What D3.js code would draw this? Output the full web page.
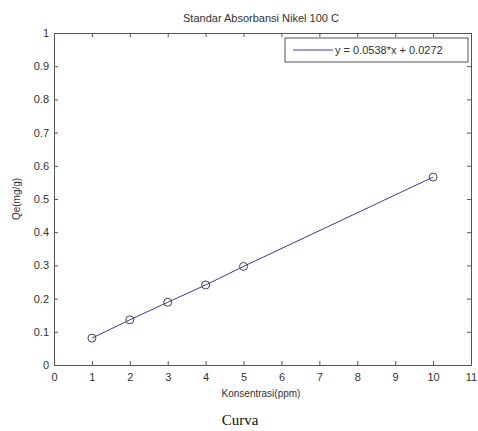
<!DOCTYPE html>
<html>
<head>
<meta charset="utf-8">
<script src="https://cdn.jsdelivr.net/npm/d3@7"></script>
<style>
  body { margin: 0; background: #fff; }
  svg text { font-family: "Liberation Sans", Arial, sans-serif; fill: #333; }
</style>
</head>
<body>
<div id="chart"></div>
<script>
// data
var concentrations = [1, 2, 3, 4, 5, 10];
var qeValues = [0.081, 0.136, 0.189, 0.241, 0.297, 0.566];
var xTicks = [0, 1, 2, 3, 4, 5, 6, 7, 8, 9, 10, 11];
var yTicks = [0, 0.1, 0.2, 0.3, 0.4, 0.5, 0.6, 0.7, 0.8, 0.9, 1];
var legendText = "y = 0.0538*x + 0.0272";

var width = 478, height = 431;
var margin = { left: 54, top: 33, right: 7, bottom: 66 };

var svg = d3.select("#chart").append("svg")
    .attr("width", width)
    .attr("height", height);

var x = d3.scaleLinear().domain([0, 11]).range([margin.left, width - margin.right]);
var y = d3.scaleLinear().domain([0, 1]).range([height - margin.bottom, margin.top]);

var fmt = function (d) { return d === 0 || d === 1 ? String(d) : String(d); };

// axes, ticks pointing inward
var axisStyle = function (g) {
    g.selectAll("path.domain").attr("stroke", "#555");
    g.selectAll(".tick line").attr("stroke", "#555");
    g.selectAll("text").attr("font-size", 11).style("fill", "#333");
};

svg.append("g")
    .attr("transform", "translate(0," + y(0) + ")")
    .call(d3.axisBottom(x).tickValues(xTicks).tickSize(-4).tickSizeOuter(0).tickPadding(8).tickFormat(fmt))
    .call(axisStyle);
svg.append("g")
    .attr("transform", "translate(0," + y(1) + ")")
    .call(d3.axisTop(x).tickValues(xTicks).tickSize(-4).tickSizeOuter(0).tickFormat(""))
    .call(axisStyle);
svg.append("g")
    .attr("transform", "translate(" + x(0) + ",0)")
    .call(d3.axisLeft(y).tickValues(yTicks).tickSize(-4).tickSizeOuter(0).tickPadding(5).tickFormat(fmt))
    .call(axisStyle);
svg.append("g")
    .attr("transform", "translate(" + x(11) + ",0)")
    .call(d3.axisRight(y).tickValues(yTicks).tickSize(-4).tickSizeOuter(0).tickFormat(""))
    .call(axisStyle);

// line + markers
var pts = concentrations.map(function (c, i) { return [c, qeValues[i]]; });
var line = d3.line().x(function (d) { return x(d[0]); }).y(function (d) { return y(d[1]); });

svg.append("path")
    .datum(pts)
    .attr("d", line)
    .attr("fill", "none")
    .attr("stroke", "#3a3aa0")
    .attr("stroke-width", 1);

svg.selectAll(".pt")
    .data(pts)
    .enter()
    .append("circle")
    .attr("class", "pt")
    .attr("cx", function (d) { return x(d[0]); })
    .attr("cy", function (d) { return y(d[1]); })
    .attr("r", 4)
    .attr("fill", "none")
    .attr("stroke", "#444")
    .attr("stroke-width", 1);

// legend
var lg = svg.append("g").attr("transform", "translate(285,38)");
lg.append("rect")
    .attr("width", 183).attr("height", 24)
    .attr("fill", "#fff").attr("stroke", "#555");
lg.append("line")
    .attr("x1", 8).attr("x2", 48).attr("y1", 12).attr("y2", 12)
    .attr("stroke", "#3a3aa0").attr("stroke-width", 1);
lg.append("text")
    .attr("x", 50).attr("y", 16)
    .attr("font-size", 11)
    .text(legendText);

// titles
svg.append("text")
    .attr("x", 261).attr("y", 22)
    .attr("text-anchor", "middle")
    .attr("font-size", 11)
    .text("Standar Absorbansi Nikel 100 C");

svg.append("text")
    .attr("x", 261).attr("y", 397)
    .attr("text-anchor", "middle")
    .attr("font-size", 10)
    .text("Konsentrasi(ppm)");

svg.append("text")
    .attr("transform", "translate(20," + ((y(0) + y(1)) / 2) + ") rotate(-90)")
    .attr("text-anchor", "middle")
    .attr("font-size", 10)
    .text("Qe(mg/g)");

svg.append("text")
    .attr("x", 240).attr("y", 425)
    .attr("text-anchor", "middle")
    .attr("font-size", 15)
    .style("font-family", "'Liberation Serif', 'Times New Roman', serif")
    .style("fill", "#111")
    .text("Curva");
</script>
</body>
</html>
